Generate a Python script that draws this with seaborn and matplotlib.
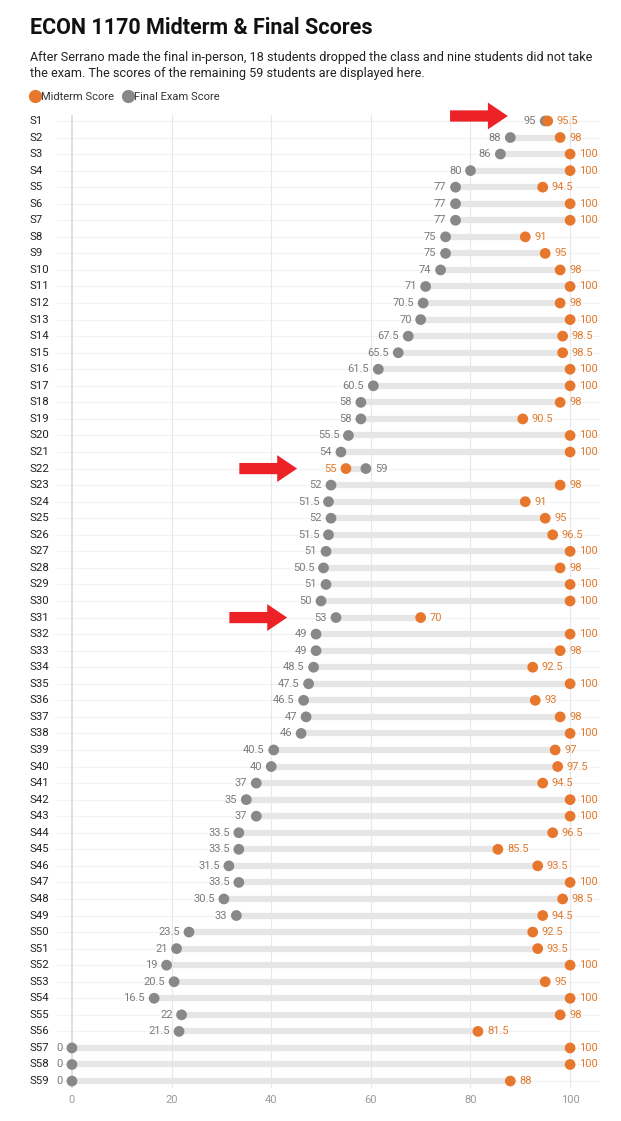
import numpy as np
import pandas as pd
import matplotlib
matplotlib.use("Agg")
import matplotlib.pyplot as plt
import matplotlib.transforms as mtransforms
from matplotlib.patches import FancyArrow
from matplotlib.lines import Line2D
import seaborn as sns

students = [f"S{i}" for i in range(1, 60)]
midterm = [95.5, 98, 100, 100, 94.5, 100, 100, 91, 95, 98,
           100, 98, 100, 98.5, 98.5, 100, 100, 98, 90.5, 100,
           100, 55, 98, 91, 95, 96.5, 100, 98, 100, 100,
           70, 100, 98, 92.5, 100, 93, 98, 100, 97, 97.5,
           94.5, 100, 100, 96.5, 85.5, 93.5, 100, 98.5, 94.5, 92.5,
           93.5, 100, 95, 100, 98, 81.5, 100, 100, 88]
final = [95, 88, 86, 80, 77, 77, 77, 75, 75, 74,
         71, 70.5, 70, 67.5, 65.5, 61.5, 60.5, 58, 58, 55.5,
         54, 59, 52, 51.5, 52, 51.5, 51, 50.5, 51, 50,
         53, 49, 49, 48.5, 47.5, 46.5, 47, 46, 40.5, 40,
         37, 35, 37, 33.5, 33.5, 31.5, 33.5, 30.5, 33, 23.5,
         21, 19, 20.5, 16.5, 22, 21.5, 0, 0, 0]
x_ticks = [0, 20, 40, 60, 80, 100]

# highlighted rows (red arrows): student, arrow tip, vertical nudge
arrow_rows = ["S1", "S22", "S31"]
arrow_tips = [87.5, 45.2, 43.2]
arrow_dy = [-0.3, 0.0, 0.0]

title = "ECON 1170 Midterm & Final Scores"
subtitle1 = "After Serrano made the final in-person, 18 students dropped the class and nine students did not take"
subtitle2 = "the exam. The scores of the remaining 59 students are displayed here."

ORANGE = "#e8772e"
GRAY = "#888888"
ORANGE_TXT = "#e07a2e"
GRAY_TXT = "#7a7a7a"

sns.set_style("white")
plt.rcParams["font.family"] = ["Roboto", "DejaVu Sans"]

df = pd.DataFrame({"student": students, "midterm": midterm, "final": final})
df["row"] = np.arange(len(df))

W, H = 621, 1121
fig = plt.figure(figsize=(W / 100, H / 100), dpi=100)
ax_l, ax_r, ax_t, ax_b = 57, 600, 115, 1088
ax = fig.add_axes([ax_l / W, 1 - ax_b / H, (ax_r - ax_l) / W, (ax_b - ax_t) / H])

xlim = (-3.0, 106.0)
ax.set_xlim(*xlim)
ax.set_ylim(58.42, -0.36)

# grid
for r in df["row"]:
    ax.axhline(r, color="#f2f2f2", lw=0.8, zorder=0)
for t in x_ticks:
    ax.axvline(t, color="#dcdcdc" if t == 0 else "#e8e8e8",
               lw=1.3 if t == 0 else 0.8, zorder=0.5)

# bands
ax.hlines(df["row"], df[["midterm", "final"]].min(axis=1),
          df[["midterm", "final"]].max(axis=1),
          color="#e6e6e6", lw=4.5, zorder=1)

sns.scatterplot(data=df, x="final", y="row", color=GRAY, s=60,
                edgecolor="none", ax=ax, zorder=3)
sns.scatterplot(data=df, x="midterm", y="row", color=ORANGE, s=60,
                edgecolor="none", ax=ax, zorder=4)

def fmt(v):
    return f"{v:g}"

for _, rw in df.iterrows():
    m, f, r = rw["midterm"], rw["final"], rw["row"]
    if f <= m:
        lo, lo_c, hi, hi_c = f, GRAY_TXT, m, ORANGE_TXT
    else:
        lo, lo_c, hi, hi_c = m, ORANGE_TXT, f, GRAY_TXT
    ax.annotate(fmt(lo), (lo, r), xytext=(-6.5, 0), textcoords="offset points",
                ha="right", va="center", fontsize=8, color=lo_c)
    ax.annotate(fmt(hi), (hi, r), xytext=(6.5, 0), textcoords="offset points",
                ha="left", va="center", fontsize=8, color=hi_c)

# row labels
trans = mtransforms.blended_transform_factory(ax.transAxes, ax.transData)
lbl_x = (30 - ax_l) / (ax_r - ax_l)
for _, rw in df.iterrows():
    ax.text(lbl_x, rw["row"], rw["student"], transform=trans, ha="left",
            va="center", fontsize=8.2, color="#222222")

# arrows
for s, tip, dy in zip(arrow_rows, arrow_tips, arrow_dy):
    r = students.index(s) + dy
    ax.add_patch(FancyArrow(tip - 11.6, r, 11.6, 0, width=0.68, head_width=1.62,
                            head_length=4.0, length_includes_head=True,
                            color="#ec2227", lw=0, zorder=6, clip_on=False))

ax.set_yticks([])
ax.set_xticks(x_ticks)
ax.set_xticklabels([str(t) for t in x_ticks])
ax.tick_params(axis="x", length=0, pad=5, labelsize=8, labelcolor="#9a9a9a")
ax.set_xlabel("")
ax.set_ylabel("")
for sp in ax.spines.values():
    sp.set_visible(False)

fig.text(30 / W, 1 - 28 / H, title, fontsize=15.5, fontweight="bold",
         color="#111111", va="center", ha="left")
fig.text(30 / W, 1 - 57 / H, subtitle1, fontsize=9.05, color="#222222",
         va="center", ha="left")
fig.text(30 / W, 1 - 73 / H, subtitle2, fontsize=9.05, color="#222222",
         va="center", ha="left")

handles = [Line2D([], [], marker="o", ls="", color=ORANGE, markersize=9.5,
                  markeredgewidth=0),
           Line2D([], [], marker="o", ls="", color=GRAY, markersize=9.5,
                  markeredgewidth=0)]
fig.legend(handles, ["Midterm Score", "Final Exam Score"], loc="center left",
           bbox_to_anchor=(24 / W, 1 - 97 / H), ncol=2, frameon=False,
           fontsize=8, handletextpad=0.05, columnspacing=0.7,
           handlelength=1.0, borderpad=0, labelcolor="#333333")

fig.savefig("out.png", dpi=100)
